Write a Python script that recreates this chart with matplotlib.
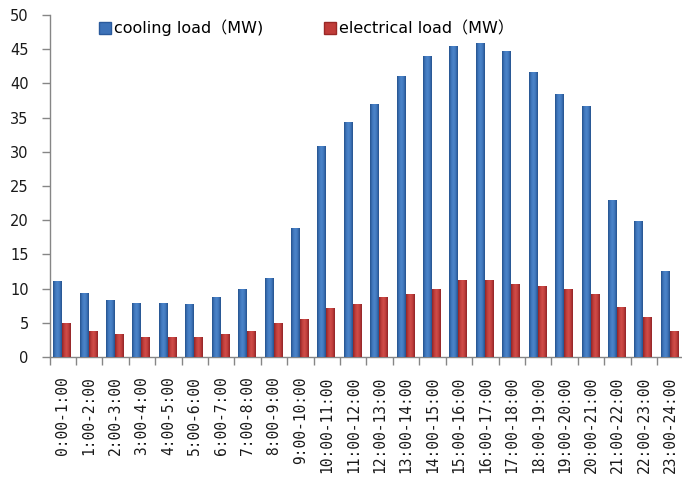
import matplotlib
matplotlib.use("Agg")
import matplotlib.pyplot as plt
import numpy as np
from matplotlib.colors import LinearSegmentedColormap
from matplotlib.patches import Patch

periods = ["0:00-1:00", "1:00-2:00", "2:00-3:00", "3:00-4:00", "4:00-5:00",
           "5:00-6:00", "6:00-7:00", "7:00-8:00", "8:00-9:00", "9:00-10:00",
           "10:00-11:00", "11:00-12:00", "12:00-13:00", "13:00-14:00",
           "14:00-15:00", "15:00-16:00", "16:00-17:00", "17:00-18:00",
           "18:00-19:00", "19:00-20:00", "20:00-21:00", "21:00-22:00",
           "22:00-23:00", "23:00-24:00"]
cooling = [11.1, 9.4, 8.4, 7.95, 7.95, 7.7, 8.7, 9.9, 11.6, 18.9, 30.9, 34.3,
           37.0, 41.1, 43.95, 45.4, 45.9, 44.7, 41.6, 38.4, 36.7, 23.0, 19.9, 12.6]
electrical = [4.9, 3.8, 3.4, 2.9, 2.9, 2.9, 3.4, 3.8, 4.9, 5.6, 7.2, 7.8,
              8.7, 9.2, 9.95, 11.2, 11.2, 10.7, 10.4, 9.95, 9.2, 7.3, 5.8, 3.85]
legend_labels = ["cooling load\uff08MW)", "electrical load\uff08MW\uff09"]
yticks = list(range(0, 51, 5))

plt.rcParams['font.family'] = ['DejaVu Sans', 'Noto Sans CJK SC']

fig = plt.figure(figsize=(6.82, 4.88), dpi=100)
ax = fig.add_axes([49.5 / 682, 1 - 357 / 488, 634 / 682, (357 - 15) / 488])

x = np.arange(len(periods))
w = 0.34
blue_cmap = LinearSegmentedColormap.from_list(
    "b", ["#25528c", "#3f76bc", "#4c85ca", "#3f76bc", "#25528c"])
red_cmap = LinearSegmentedColormap.from_list(
    "r", ["#8f2428", "#bf3d3a", "#d04d49", "#bf3d3a", "#8f2428"])
grad = np.linspace(0, 1, 64).reshape(1, -1)

b1 = ax.bar(x - w / 2 - 0.02, cooling, w, color="#3f76bc", zorder=2)
b2 = ax.bar(x + w / 2 - 0.02, electrical, w, color="#bf3d3a", zorder=2)
for bars, cmap in ((b1, blue_cmap), (b2, red_cmap)):
    for r in bars:
        x0, y0 = r.get_x(), r.get_y()
        im = ax.imshow(grad, cmap=cmap, aspect="auto", zorder=3,
                       extent=(x0, x0 + r.get_width(), y0, y0 + r.get_height()),
                       interpolation="bilinear")
        im.set_clip_path(r)

ax.set_xlim(-0.5, len(periods) - 0.5)
ax.set_ylim(0, 50)
ax.set_yticks(yticks)
ax.tick_params(axis="y", labelsize=10.5, length=6, width=1, color="#868686",
               pad=9, labelcolor="#1a1a1a")
ax.set_xticks(x)
ax.set_xticklabels(periods, rotation=90, fontsize=10.5, color="#1a1a1a",
                   family="DejaVu Sans Mono")
ax.set_xticks(np.arange(-0.5, len(periods), 1.0), minor=True)
ax.tick_params(axis="x", which="major", length=0, pad=14)
ax.tick_params(axis="x", which="minor", length=6, width=1, color="#868686")
for s in ("top", "right"):
    ax.spines[s].set_visible(False)
for s in ("left", "bottom"):
    ax.spines[s].set_color("#868686")
    ax.spines[s].set_linewidth(1)

handles = [Patch(facecolor="#3d72b8", edgecolor="#2a5a9c"),
           Patch(facecolor="#c03c39", edgecolor="#9a2826")]
ax.legend(handles, legend_labels, loc="center left",
          bbox_to_anchor=(49.5 / 634, 1 - (28 - 15) / 342), ncol=2,
          frameon=False, fontsize=11.5, handlelength=0.75, handleheight=0.75,
          handletextpad=0.2, columnspacing=3.8, borderaxespad=0,
          borderpad=0)

fig.savefig("out.png", dpi=100)
